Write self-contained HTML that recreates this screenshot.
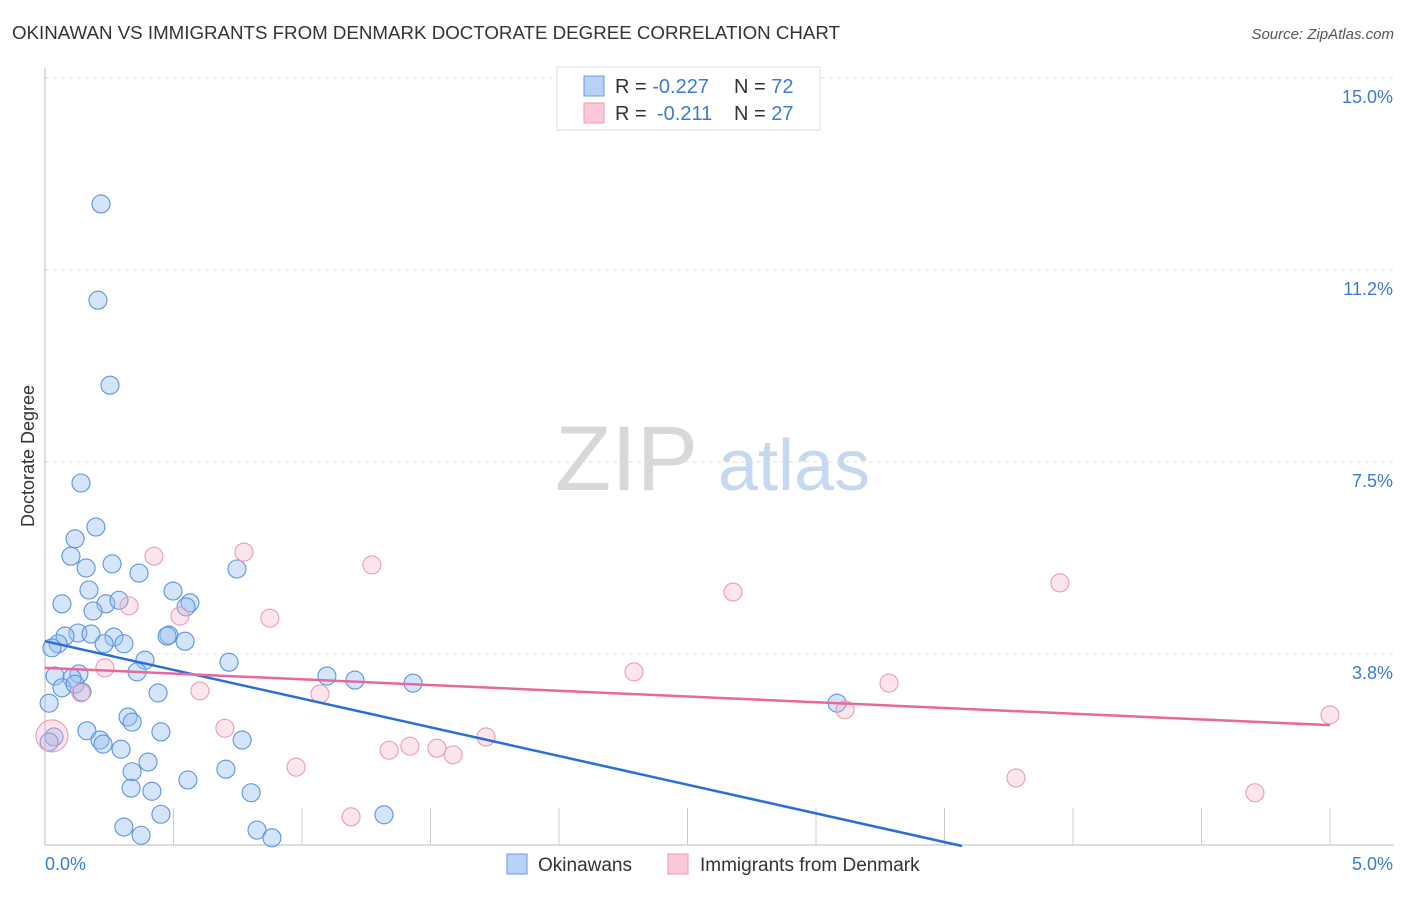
<!DOCTYPE html>
<html><head><meta charset="utf-8"><style>
body{margin:0;background:#fff;font-family:"Liberation Sans",sans-serif}
svg text{font-family:"Liberation Sans",sans-serif}
</style></head><body>
<svg id="chart" width="1406" height="892" viewBox="0 0 1406 892">
<text x="12" y="39" font-size="18.5" fill="#333" textLength="828" lengthAdjust="spacingAndGlyphs">OKINAWAN VS IMMIGRANTS FROM DENMARK DOCTORATE DEGREE CORRELATION CHART</text>
<text x="1394" y="39" font-size="15" fill="#555" font-style="italic" text-anchor="end">Source: ZipAtlas.com</text>
<text x="555" y="490" font-size="92" fill="#d8d8d8" font-family="Liberation Serif,serif">ZIP</text>
<text x="718" y="490" font-size="72" fill="#c5d8f0">atlas</text>
<g id="grid"></g>
<g id="axes"></g>
<g id="pts"></g>
<g id="trend"></g>
<text transform="translate(34,456) rotate(-90)" font-size="18" fill="#333" text-anchor="middle">Doctorate Degree</text>
<g>
<rect x="557" y="67" width="263" height="63" fill="#fff" stroke="#ddd"/>
<rect x="584" y="76" width="20" height="20" fill="#b8d2f5" stroke="#6a9be0"/>
<rect x="584" y="103" width="20" height="20" fill="#fbc8d8" stroke="#ee98b5"/>
<text x="615" y="93" font-size="20" fill="#333">R = <tspan fill="#3a7bd5">-0.227</tspan><tspan x="734">N = </tspan><tspan fill="#3a7bd5">72</tspan></text>
<text x="615" y="120" font-size="20" fill="#333">R = <tspan x="657" fill="#3a7bd5">-0.211</tspan><tspan x="734">N = </tspan><tspan fill="#3a7bd5">27</tspan></text>
</g>
<g>
<rect x="507" y="854" width="20" height="20" fill="#b8d2f5" stroke="#6a9be0"/>
<text x="538" y="871" font-size="19" fill="#333">Okinawans</text>
<rect x="668" y="854" width="20" height="20" fill="#fbc8d8" stroke="#ee98b5"/>
<text x="700" y="871" font-size="19" fill="#333">Immigrants from Denmark</text>
</g>
</svg>
<script>
const yTicks=[3.8,7.5,11.2,15.0];
const yTickVals=[3.75,7.5,11.25,15.0];
const xTickLabels=["0.0%","5.0%"];
const blueX=[0.218,0.206,0.253,0.140,0.198,0.117,0.101,0.261,0.160,0.366,0.747,0.171,0.498,0.066,0.237,0.288,0.187,0.564,0.549,0.128,0.179,0.078,0.051,0.027,0.268,0.230,0.307,0.482,0.475,0.545,0.716,0.389,0.358,0.039,0.132,0.105,0.066,0.117,0.144,0.016,1.097,1.206,1.432,0.440,3.082,0.323,0.339,0.451,0.163,0.214,0.226,0.296,0.035,0.016,0.767,0.401,0.339,0.556,0.704,0.335,0.416,0.802,0.451,1.319,0.307,0.374,0.825,0.883];
const blueY=[12.54,10.66,9.00,7.09,6.23,6.00,5.66,5.51,5.43,5.33,5.41,5.00,4.98,4.73,4.73,4.80,4.59,4.75,4.67,4.16,4.14,4.10,3.95,3.87,4.08,3.95,3.95,4.12,4.10,4.00,3.59,3.63,3.40,3.32,3.36,3.28,3.09,3.16,3.01,2.79,3.32,3.24,3.18,2.99,2.79,2.52,2.42,2.23,2.25,2.07,1.99,1.89,2.13,2.03,2.07,1.64,1.45,1.29,1.50,1.13,1.07,1.04,0.62,0.61,0.37,0.21,0.31,0.16];
const pinkX=[0.424,0.774,1.272,0.327,0.525,0.875,2.677,3.949,0.233,2.292,3.284,0.603,1.070,0.140,3.113,5.0,0.700,1.716,1.420,1.525,1.339,1.588,0.977,3.778,4.708,1.191,0.027];
const pinkY=[5.66,5.74,5.49,4.69,4.49,4.45,4.96,5.14,3.48,3.40,3.18,3.03,2.97,2.99,2.66,2.56,2.30,2.13,1.95,1.91,1.87,1.78,1.54,1.33,1.04,0.57,2.15];
const pinkR=[9,9,9,9,9,9,9,9,9,9,9,9,9,9,9,9,9,9,9,9,9,9,9,9,9,9,16];
const blueTrend=[0,4.00,3.568,0];
const pinkTrend=[0,3.48,5.0,2.36];
const X=v=>45+v*257, Y=v=>846-v*192/3.75;
const NS="http://www.w3.org/2000/svg";
function mk(p,t,a){const e=document.createElementNS(NS,t);for(const k in a)e.setAttribute(k,a[k]);document.getElementById(p).appendChild(e);return e;}
yTickVals.forEach((v,i)=>{
 const l=mk('grid','line',{x1:45,x2:1394,y1:Y(v),y2:Y(v),stroke:'#ddd','stroke-dasharray':'4,4'});
 
 
 const t=mk('grid','text',{x:1393,y:Y(v)+25,'font-size':18,fill:'#3a7bd5','text-anchor':'end'});
 t.textContent=yTicks[i].toFixed(1)+'%';
 
 
});
let a=mk('axes','line',{x1:45,x2:45,y1:68,y2:845,stroke:'#bbb'});

a=mk('axes','line',{x1:45,x2:1394,y1:845,y2:845,stroke:'#bbb'});

for(let i=1;i<=10;i++){const t=mk('axes','line',{x1:X(i*0.5),x2:X(i*0.5),y1:808,y2:845,stroke:'#ccc'});
 
 }
let xl=mk('axes','text',{x:45,y:870,'font-size':18,fill:'#3a7bd5'});xl.textContent=xTickLabels[0];

xl=mk('axes','text',{x:1393,y:870,'font-size':18,fill:'#3a7bd5','text-anchor':'end'});xl.textContent=xTickLabels[1];

blueX.forEach((x,i)=>{const c=mk('pts','circle',{cx:X(x),cy:Y(blueY[i]),r:9,fill:'rgba(150,190,240,0.4)',stroke:'#5b93e0','stroke-width':1.1});
 
 });
pinkX.forEach((x,i)=>{const c=mk('pts','circle',{cx:X(x),cy:Y(pinkY[i]),r:pinkR[i],fill:'rgba(248,175,200,0.32)',stroke:'#ec9ab6','stroke-width':1.1});
 
 });
let tl=mk('trend','line',{x1:X(blueTrend[0]),y1:Y(blueTrend[1]),x2:X(blueTrend[2]),y2:Y(blueTrend[3]),stroke:'#2a6fd6','stroke-width':2.5});

tl=mk('trend','line',{x1:X(pinkTrend[0]),y1:Y(pinkTrend[1]),x2:X(pinkTrend[2]),y2:Y(pinkTrend[3]),stroke:'#e8689a','stroke-width':2.5});

</script>
</body></html>
